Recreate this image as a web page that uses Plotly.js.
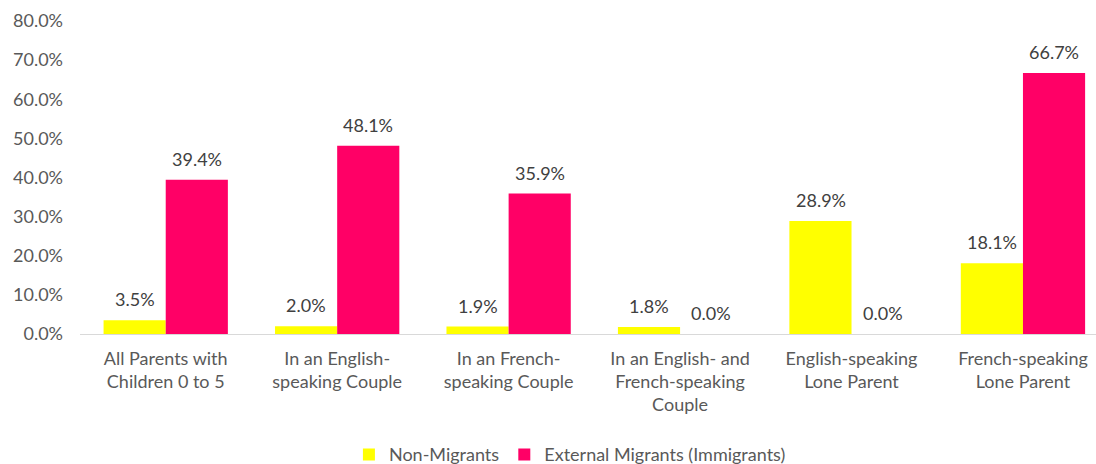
<!DOCTYPE html>
<html>
<head>
<meta charset="utf-8">
<script src="https://cdn.plot.ly/plotly-3.0.1.min.js"></script>
<style>html,body{margin:0;padding:0;background:#fff;}#chart{width:1096px;height:464px;}</style>
</head>
<body>
<div id="chart"></div>
<script>
const categories = [
  "All Parents with<br>Children 0 to 5",
  "In an English-<br>speaking Couple",
  "In an French-<br>speaking Couple",
  "In an English- and<br>French-speaking<br>Couple",
  "English-speaking<br>Lone Parent",
  "French-speaking<br>Lone Parent"
];
const nonMigrants = [3.5, 2.0, 1.9, 1.8, 28.9, 18.1];
const externalMigrants = [39.4, 48.1, 35.9, 0.0, 0.0, 66.7];
const seriesNames = ["Non-Migrants", "External Migrants (Immigrants)"];

const font = "Lato, 'Open Sans', sans-serif";
const mk = (name, vals, color) => ({
  type: "bar", name: name, x: categories, y: vals,
  marker: {color: color},
  hoverinfo: "skip"
});
const data = [
  mk(seriesNames[0], nonMigrants, "#FFFF00"),
  mk(seriesNames[1], externalMigrants, "#FF0066")
];
const annotations = [];
[[nonMigrants, -31], [externalMigrants, 31]].forEach(([vals, dx]) => {
  vals.forEach((v, i) => annotations.push({
    x: categories[i], y: v, xref: "x", yref: "y",
    text: v.toFixed(1) + "%", showarrow: false,
    xshift: dx, yshift: 8, yanchor: "bottom",
    font: {family: font, size: 18, color: "#404040"}
  }));
});
const layout = {
  width: 1096, height: 464,
  margin: {l: 80, r: 0, t: 21, b: 130},
  paper_bgcolor: "#fff", plot_bgcolor: "#fff",
  bargap: 0.275, bargroupgap: 0,
  barmode: "group",
  font: {family: font, size: 18, color: "#595959"},
  annotations: annotations,
  xaxis: {
    range: [-0.5, 5.426], showgrid: false, zeroline: false, automargin: false,
    showline: true, linecolor: "#d9d9d9", linewidth: 1,
    ticks: "", ticklabelstandoff: 8,
    tickfont: {family: font, size: 18, color: "#595959"}
  },
  yaxis: {
    range: [0, 80], dtick: 10, showgrid: false, zeroline: false, automargin: false,
    showline: false, ticksuffix: "%", tickformat: ".1f",
    ticks: "", ticklabelstandoff: 16,
    tickfont: {family: font, size: 18, color: "#595959"}
  },
  showlegend: true,
  legend: {
    orientation: "h", xref: "container", yref: "container",
    x: 0.52, xanchor: "center", y: 0.02, yanchor: "middle",
    font: {family: font, size: 18, color: "#595959"},
    itemwidth: 30, traceorder: "normal"
  }
};
Plotly.newPlot("chart", data, layout, {displayModeBar: false, staticPlot: true});
</script>
</body>
</html>
